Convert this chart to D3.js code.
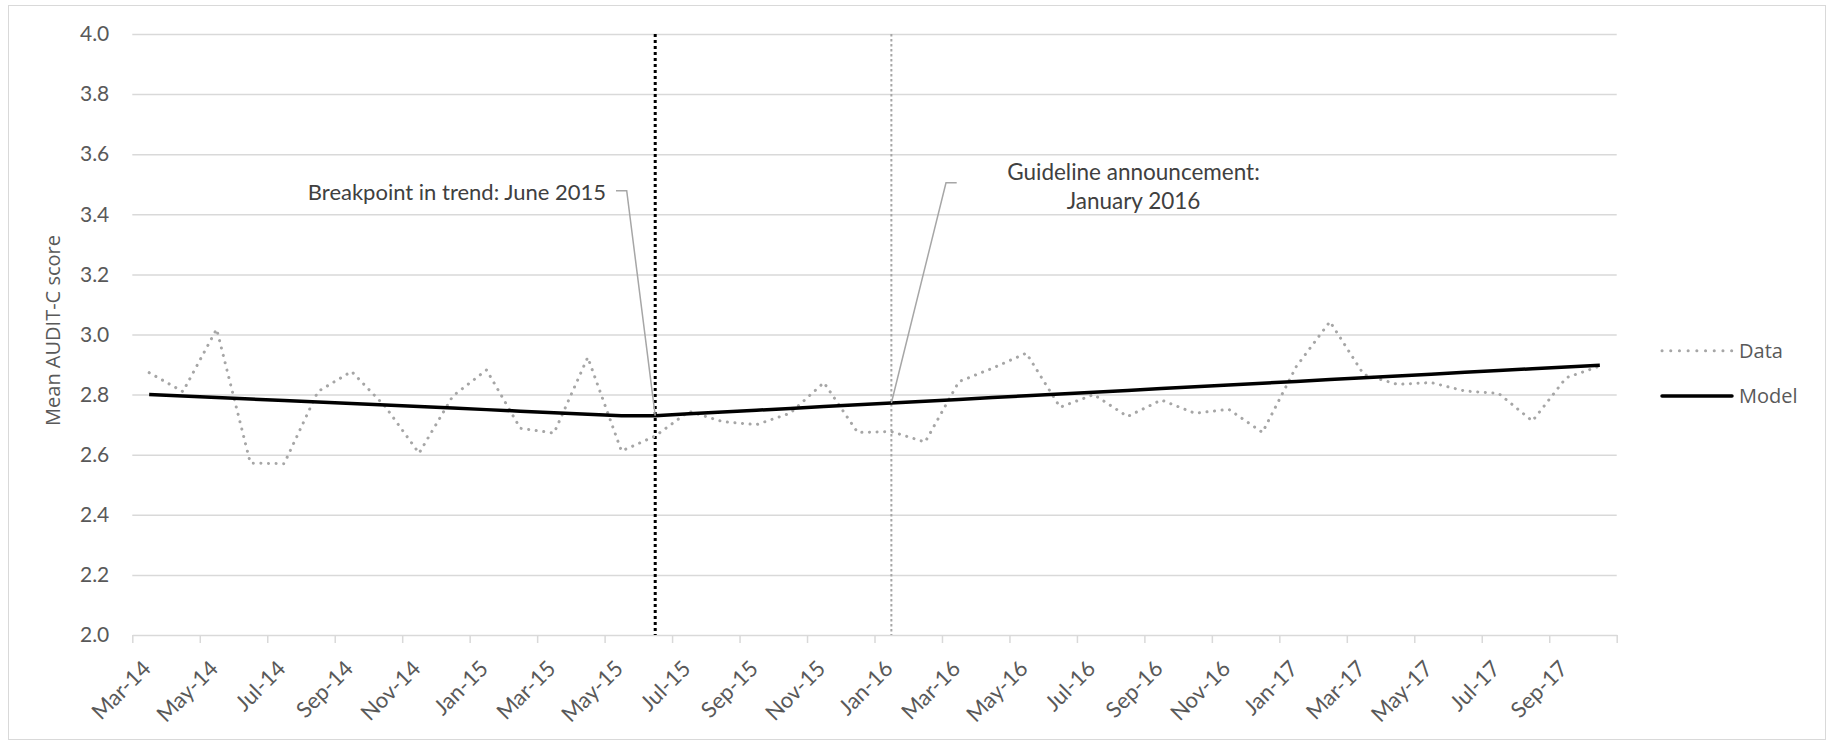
<!DOCTYPE html>
<html>
<head>
<meta charset="utf-8">
<script src="https://cdnjs.cloudflare.com/ajax/libs/d3/7.8.5/d3.min.js"></script>
<style>
  body { margin: 0; background: #fff; }
  svg { display: block; }
</style>
</head>
<body>
<svg id="chart"></svg>
<script>
// months on the category axis
var months = ['Mar-14', 'Apr-14', 'May-14', 'Jun-14', 'Jul-14', 'Aug-14', 'Sep-14', 'Oct-14', 'Nov-14', 'Dec-14',
  'Jan-15', 'Feb-15', 'Mar-15', 'Apr-15', 'May-15', 'Jun-15', 'Jul-15', 'Aug-15', 'Sep-15', 'Oct-15', 'Nov-15', 'Dec-15',
  'Jan-16', 'Feb-16', 'Mar-16', 'Apr-16', 'May-16', 'Jun-16', 'Jul-16', 'Aug-16', 'Sep-16', 'Oct-16', 'Nov-16', 'Dec-16',
  'Jan-17', 'Feb-17', 'Mar-17', 'Apr-17', 'May-17', 'Jun-17', 'Jul-17', 'Aug-17', 'Sep-17', 'Oct-17'];

// observed mean AUDIT-C score
var dataValues = [2.873, 2.810, 3.018, 2.572, 2.570, 2.810, 2.877, 2.760, 2.605, 2.795,
  2.882, 2.688, 2.672, 2.924, 2.612, 2.662, 2.744, 2.710, 2.700, 2.738, 2.840, 2.674,
  2.677, 2.642, 2.843, 2.888, 2.938, 2.758, 2.800, 2.727, 2.782, 2.738, 2.751, 2.674,
  2.893, 3.043, 2.867, 2.834, 2.840, 2.812, 2.804, 2.712, 2.856, 2.895];

// segmented regression model
var modelValues = [2.800, 2.795, 2.790, 2.785, 2.780, 2.775, 2.770, 2.765, 2.760, 2.755,
  2.750, 2.745, 2.740, 2.735, 2.730, 2.730, 2.736, 2.742, 2.748, 2.754, 2.760, 2.766,
  2.772, 2.778, 2.784, 2.790, 2.796, 2.802, 2.808, 2.814, 2.820, 2.826, 2.832, 2.838,
  2.844, 2.850, 2.856, 2.862, 2.868, 2.874, 2.880, 2.886, 2.892, 2.898];

var yTicks = [2.0, 2.2, 2.4, 2.6, 2.8, 3.0, 3.2, 3.4, 3.6, 3.8, 4.0];
var labelMonths = months.filter(function(d, i) { return i % 2 == 0; });
var breakMonth = 'Jun-15';
var guideMonth = 'Jan-16';
var seriesNames = ['Data', 'Model'];

var width = 1827;
var height = 741;
var plotLeft = 132.3;
var plotRight = 1616.7;
var plotTop = 34;
var plotBottom = 635;

var svg = d3.select('#chart')
  .attr('width', width)
  .attr('height', height);

var tickFont = 'Lato, "Open Sans", sans-serif';
var uiFont = '"Open Sans", "Noto Sans", sans-serif';

// chart area border
svg.append('rect')
  .attr('x', 8.5).attr('y', 5.5)
  .attr('width', width - 10).attr('height', height - 7)
  .attr('fill', 'none')
  .attr('stroke', '#d9d9d9')
  .attr('stroke-width', 1);

// scales
var x = d3.scaleBand()
  .domain(months)
  .range([plotLeft, plotRight])
  .padding(0);

var xEdge = d3.scaleLinear()
  .domain([0, months.length])
  .range([plotLeft, plotRight]);

var y = d3.scaleLinear()
  .domain([2.0, 4.0])
  .range([plotBottom, plotTop]);

function cx(m) {
  return x(m) + x.bandwidth() / 2;
}

// gridlines
svg.append('g')
  .attr('transform', 'translate(' + plotLeft + ',0)')
  .call(d3.axisLeft(y).tickValues(yTicks.slice(1)).tickSize(-(plotRight - plotLeft)).tickFormat(''))
  .call(function(g) { g.select('.domain').remove(); })
  .selectAll('line')
    .attr('stroke', '#d9d9d9')
    .attr('stroke-width', 1.5);

// y tick labels
svg.append('g')
  .attr('transform', 'translate(' + plotLeft + ',0)')
  .call(d3.axisLeft(y).tickValues(yTicks).tickSize(0).tickPadding(23).tickFormat(d3.format('.1f')))
  .call(function(g) { g.select('.domain').remove(); })
  .selectAll('text')
    .attr('fill', '#595959')
    .style('font-family', tickFont)
    .style('font-size', '21px');

// x axis line + boundary ticks
svg.append('g')
  .attr('transform', 'translate(0,' + plotBottom + ')')
  .call(d3.axisBottom(xEdge).tickValues(d3.range(0, months.length + 1, 2)).tickSize(8).tickSizeOuter(0).tickFormat(''))
  .call(function(g) {
    g.select('.domain').attr('stroke', '#d9d9d9').attr('stroke-width', 1.5);
    g.selectAll('line').attr('stroke', '#d9d9d9').attr('stroke-width', 1.5);
  });

// x labels, rotated
svg.append('g')
  .attr('transform', 'translate(0,' + plotBottom + ')')
  .call(d3.axisBottom(x).tickValues(labelMonths).tickSize(0))
  .call(function(g) { g.select('.domain').remove(); })
  .selectAll('text')
    .attr('x', 0)
    .attr('y', 0)
    .attr('dy', 0)
    .attr('text-anchor', 'end')
    .attr('transform', 'translate(3,35) rotate(-45)')
    .attr('fill', '#595959')
    .style('font-family', tickFont)
    .style('font-size', '22px');

// y axis title
svg.append('text')
  .attr('transform', 'translate(52,' + ((plotTop + plotBottom) / 2 - 4) + ') rotate(-90)')
  .attr('text-anchor', 'middle')
  .attr('dominant-baseline', 'central')
  .attr('fill', '#595959')
  .style('font-family', uiFont)
  .style('font-size', '20px')
  .text('Mean AUDIT-C score');

// event lines
svg.append('line')
  .attr('x1', cx(breakMonth)).attr('x2', cx(breakMonth))
  .attr('y1', y(4.0)).attr('y2', y(2.0))
  .attr('stroke', '#000')
  .attr('stroke-width', 3)
  .attr('stroke-dasharray', '3 3');

svg.append('line')
  .attr('x1', cx(guideMonth)).attr('x2', cx(guideMonth))
  .attr('y1', y(4.0)).attr('y2', y(2.0))
  .attr('stroke', '#a6a6a6')
  .attr('stroke-width', 2)
  .attr('stroke-dasharray', '2.5 2.5');

// series lines
var line = d3.line()
  .x(function(d, i) { return cx(months[i]); })
  .y(function(d) { return y(d); });

svg.append('path')
  .datum(dataValues)
  .attr('d', line)
  .attr('fill', 'none')
  .attr('stroke', '#a6a6a6')
  .attr('stroke-width', 3)
  .attr('stroke-linecap', 'round')
  .attr('stroke-dasharray', '0.1 7.5');

svg.append('path')
  .datum(modelValues)
  .attr('d', line)
  .attr('fill', 'none')
  .attr('stroke', '#000')
  .attr('stroke-width', 3.5)
  .attr('stroke-linejoin', 'round');

// callouts
var bx = cx(breakMonth);
var by = y(modelValues[months.indexOf(breakMonth)]);
svg.append('polyline')
  .attr('points', [[616, 190.7], [626.7, 190.7], [bx, by]].join(' '))
  .attr('fill', 'none')
  .attr('stroke', '#a6a6a6')
  .attr('stroke-width', 1.5);

svg.append('text')
  .attr('x', 606)
  .attr('y', 191)
  .attr('text-anchor', 'end')
  .attr('dominant-baseline', 'central')
  .attr('fill', '#404040')
  .style('font-family', tickFont)
  .style('font-size', '22px')
  .text('Breakpoint in trend: June 2015');

var gx = cx(guideMonth);
var gy = y(modelValues[months.indexOf(guideMonth)]);
svg.append('polyline')
  .attr('points', [[956.7, 182.7], [946, 182.7], [gx, gy]].join(' '))
  .attr('fill', 'none')
  .attr('stroke', '#a6a6a6')
  .attr('stroke-width', 1.5);

var guideText = svg.append('text')
  .attr('text-anchor', 'middle')
  .attr('fill', '#404040')
  .style('font-family', tickFont)
  .style('font-size', '22.5px');
guideText.append('tspan')
  .attr('x', 1133.5).attr('y', 171)
  .attr('dominant-baseline', 'central')
  .text('Guideline announcement:');
guideText.append('tspan')
  .attr('x', 1133.5).attr('y', 200)
  .attr('dominant-baseline', 'central')
  .text('January 2016');

// legend
var legend = svg.append('g')
  .attr('transform', 'translate(1662,350.7)');

legend.selectAll('line')
  .data(seriesNames)
  .enter().append('line')
    .attr('x1', 0).attr('x2', 70)
    .attr('y1', function(d, i) { return i * 45.3; })
    .attr('y2', function(d, i) { return i * 45.3; })
    .attr('stroke', function(d) { return d == 'Data' ? '#a6a6a6' : '#000'; })
    .attr('stroke-width', function(d) { return d == 'Data' ? 3 : 3.5; })
    .attr('stroke-linecap', 'round')
    .attr('stroke-dasharray', function(d) { return d == 'Data' ? '0.1 8.6' : null; });

legend.selectAll('text')
  .data(seriesNames)
  .enter().append('text')
    .attr('x', 77)
    .attr('y', function(d, i) { return i * 45.3; })
    .attr('dominant-baseline', 'central')
    .attr('fill', '#595959')
    .style('font-family', uiFont)
    .style('font-size', '20px')
    .text(function(d) { return d; });
</script>
</body>
</html>
